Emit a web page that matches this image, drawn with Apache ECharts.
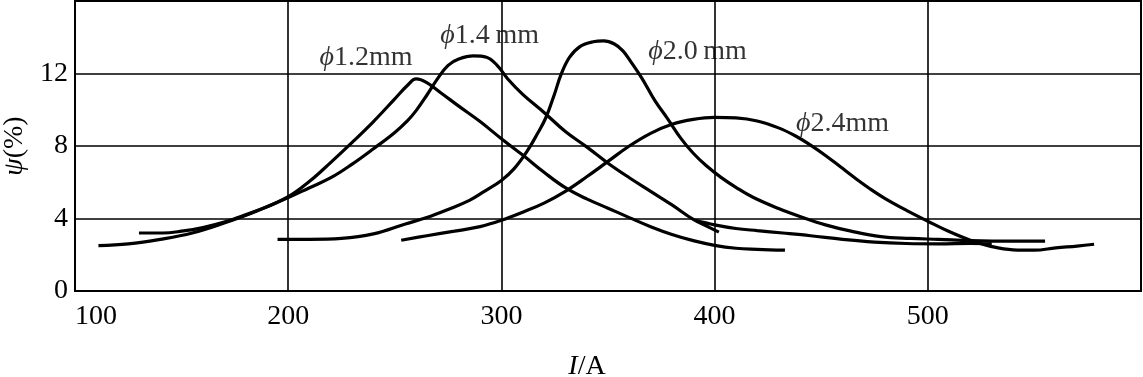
<!DOCTYPE html>
<html>
<head>
<meta charset="utf-8">
<script src="https://cdn.jsdelivr.net/npm/echarts@6/dist/echarts.min.js"></script>
<style>
  html, body { margin: 0; padding: 0; background: #fff; }
  #chart { width: 1143px; height: 377px; }
</style>
</head>
<body>
<div id="chart"></div>
<script>
// welding current I (A) -> psi (%)
var phi12 = [[111, 2.5], [125, 2.6], [140, 2.85], [155, 3.2], [170, 3.75], [185, 4.4], [200, 5.2],
  [210, 6.05], [220, 7.1], [230, 8.2], [240, 9.35], [250, 10.6], [256, 11.35], [260, 11.7],
  [265, 11.5], [272, 10.9], [280, 10.2], [290, 9.35], [300, 8.4], [310, 7.5], [320, 6.55],
  [330, 5.7], [340, 5.08], [350, 4.57], [360, 4.05], [370, 3.55], [380, 3.12], [390, 2.78],
  [400, 2.52], [410, 2.36], [420, 2.3], [433, 2.25]];
var phi14 = [[130, 3.2], [141, 3.2], [150, 3.3], [160, 3.5], [170, 3.8], [180, 4.2], [190, 4.65],
  [200, 5.15], [210, 5.7], [220, 6.25], [230, 7.0], [240, 7.85], [250, 8.75], [256, 9.4],
  [260, 9.95], [265, 10.8], [270, 11.7], [275, 12.45], [280, 12.8], [287, 12.97], [293, 12.9],
  [298, 12.45], [303, 11.7], [310, 10.85], [320, 9.85], [330, 8.8], [340, 7.95], [350, 7.05],
  [360, 6.25], [370, 5.5], [380, 4.75], [390, 3.95], [396, 3.6], [402, 3.25]];
var phi14Tail = [[391, 3.9], [400, 3.65], [410, 3.45], [420, 3.33], [432, 3.2], [445, 3.05],
  [460, 2.85], [475, 2.7], [490, 2.62], [505, 2.6], [520, 2.62], [530, 2.6]];
var phi20 = [[195, 2.85], [210, 2.85], [225, 2.9], [240, 3.15], [255, 3.7], [265, 4.05],
  [275, 4.5], [285, 5.0], [292, 5.5], [300, 6.1], [306, 6.75], [312, 7.7], [317, 8.7],
  [321, 9.6], [325, 10.9], [328, 11.95], [332, 12.9], [337, 13.5], [343, 13.75], [348, 13.8],
  [353, 13.63], [357, 13.25], [361, 12.6], [366, 11.72], [372, 10.5], [378, 9.5], [384, 8.45],
  [390, 7.6], [396, 6.92], [403, 6.27], [410, 5.72], [418, 5.17], [430, 4.55], [441, 4.07],
  [452, 3.65], [464, 3.3], [478, 3.0], [492, 2.9], [505, 2.85], [520, 2.78], [540, 2.75],
  [555, 2.75]];
var phi24 = [[253, 2.8], [265, 3.05], [278, 3.3], [290, 3.55], [300, 3.9], [310, 4.35],
  [320, 4.85], [330, 5.5], [340, 6.3], [350, 7.15], [360, 8.0], [370, 8.7], [380, 9.2],
  [390, 9.47], [400, 9.58], [410, 9.55], [420, 9.38], [430, 9.0], [438, 8.55], [445, 8.05],
  [452, 7.48], [459, 6.85], [466, 6.22], [473, 5.63], [480, 5.1], [490, 4.45], [500, 3.85],
  [510, 3.28], [520, 2.8], [530, 2.45], [540, 2.27], [550, 2.25], [560, 2.38], [570, 2.48],
  [578, 2.58]];

// curve captions: text, I, psi
var curveLabels = [
  ['{i|ϕ}1.2mm', 236.5, 12.9],
  ['{i|ϕ}1.4\u2009mm', 294.5, 14.1],
  ['{i|ϕ}2.0\u2009mm', 392, 13.2],
  ['{i|ϕ}2.4mm', 460, 9.25]
];

var font = '"Liberation Serif", "Times New Roman", serif';
var chart = echarts.init(document.getElementById('chart'));

function curve(name, data) {
  return {
    name: name,
    type: 'line',
    data: data,
    symbol: 'none',
    smooth: 0.4,
    silent: true,
    lineStyle: { color: '#000', width: 3.2 }
  };
}

var option = {
  animation: false,
  backgroundColor: '#fff',
  grid: {
    left: 75, right: 2, top: 1, bottom: 86,
    show: true, borderColor: '#000', borderWidth: 2,
    outerBoundsMode: 'none'
  },
  xAxis: {
    type: 'value',
    min: 100, max: 600, interval: 100,
    name: '{i|I}/A',
    nameLocation: 'middle',
    nameGap: 62,
    nameTextStyle: {
      fontFamily: font, fontSize: 28, color: '#000', padding: [0, 42, 0, 0],
      rich: { i: { fontFamily: font, fontSize: 28, fontStyle: 'italic', color: '#000' } }
    },
    axisLine: { show: false },
    axisTick: { show: false },
    axisLabel: {
      fontFamily: font, fontSize: 28, color: '#000', margin: 12,
      showMaxLabel: false, alignMinLabel: 'left'
    },
    splitLine: { show: true, lineStyle: { color: '#000', width: 1.6 } }
  },
  yAxis: {
    type: 'value',
    min: 0, max: 16, interval: 4,
    name: '{i|ψ}(%)',
    nameLocation: 'middle',
    nameGap: 44,
    nameTextStyle: {
      fontFamily: font, fontSize: 28, color: '#000',
      rich: { i: { fontFamily: font, fontSize: 28, fontStyle: 'italic', color: '#000' } }
    },
    axisLine: { show: false },
    axisTick: { show: false },
    axisLabel: { fontFamily: font, fontSize: 28, color: '#000', margin: 7, showMaxLabel: false },
    splitLine: { show: true, lineStyle: { color: '#000', width: 1.6 } }
  },
  series: [
    curve('ϕ1.2mm', phi12),
    curve('ϕ1.4mm', phi14),
    curve('ϕ1.4mm tail', phi14Tail),
    curve('ϕ2.0mm', phi20),
    curve('ϕ2.4mm', phi24),
    {
      type: 'scatter',
      silent: true,
      symbolSize: 1,
      itemStyle: { color: 'rgba(0,0,0,0)' },
      data: curveLabels.map(function (l) { return { name: l[0], value: [l[1], l[2]] }; }),
      label: {
        show: true,
        position: 'inside',
        formatter: function (p) { return p.name; },
        fontFamily: font, fontSize: 28, color: '#000',
        rich: { i: { fontFamily: font, fontSize: 28, fontStyle: 'italic', color: '#000' } }
      }
    }
  ]
};

chart.setOption(option);
</script>
</body>
</html>
